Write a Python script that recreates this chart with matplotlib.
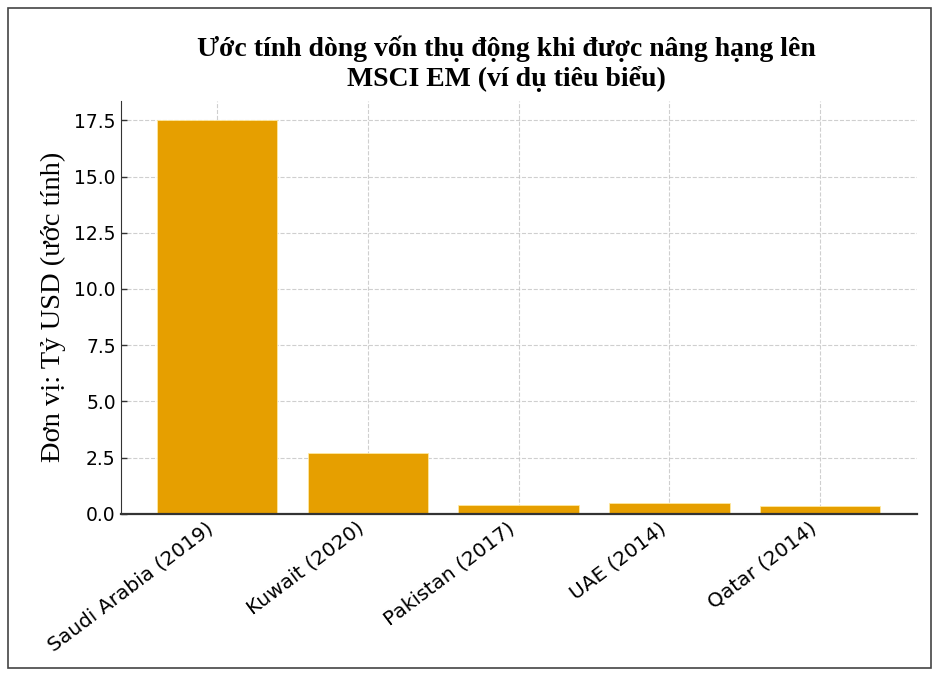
import matplotlib
matplotlib.use("Agg")
import matplotlib.pyplot as plt
from matplotlib.patches import Rectangle

# du lieu uoc tinh (ty USD)
countries = ["Saudi Arabia (2019)", "Kuwait (2020)", "Pakistan (2017)", "UAE (2014)", "Qatar (2014)"]
flows = [17.5, 2.7, 0.4, 0.5, 0.35]
yticks = [0, 2.5, 5, 7.5, 10, 12.5, 15, 17.5]

title = "Ước tính dòng vốn thụ động khi được nâng hạng lên\nMSCI EM (ví dụ tiêu biểu)"
ylabel = "Đơn vị: Tỷ USD (ước tính)"

fig = plt.figure(figsize=(9.42, 6.85), dpi=100)
ax = fig.add_axes([0.128, 0.25, 0.845, 0.603])

ax.bar(range(len(countries)), flows, width=0.8, color="#E69F00",
       edgecolor="#FFE9A0", linewidth=0.6, zorder=2)

ax.set_xticks(range(len(countries)))
ax.set_xticklabels(countries, rotation=37, ha="right", fontsize=14.5)
ax.set_yticks(yticks)
ax.set_yticklabels(["%.1f" % v for v in yticks], fontsize=13.5)
ax.tick_params(direction="in", length=4, width=1, color="#333333")

ax.grid(True, linestyle="--", color="#c4c4c4", linewidth=0.8, alpha=0.8, zorder=0)
ax.set_axisbelow(True)
for s in ["top", "right"]:
    ax.spines[s].set_visible(False)
ax.spines["left"].set_color("#333333")
ax.spines["bottom"].set_color("#333333")
ax.spines["bottom"].set_linewidth(1.6)

ax.set_ylabel(ylabel, family="Liberation Serif", fontsize=20.5, labelpad=6)
fig.text(0.538, 0.907, title, family="Liberation Serif", fontweight="bold",
         fontsize=20, ha="center", va="center", linespacing=1.2)

# khung vien quanh hinh
fig.patches.append(Rectangle((0.008, 0.025), 0.98, 0.963, transform=fig.transFigure,
                             fill=False, edgecolor="#444444", linewidth=1.2))

plt.savefig("out.png", dpi=100)
